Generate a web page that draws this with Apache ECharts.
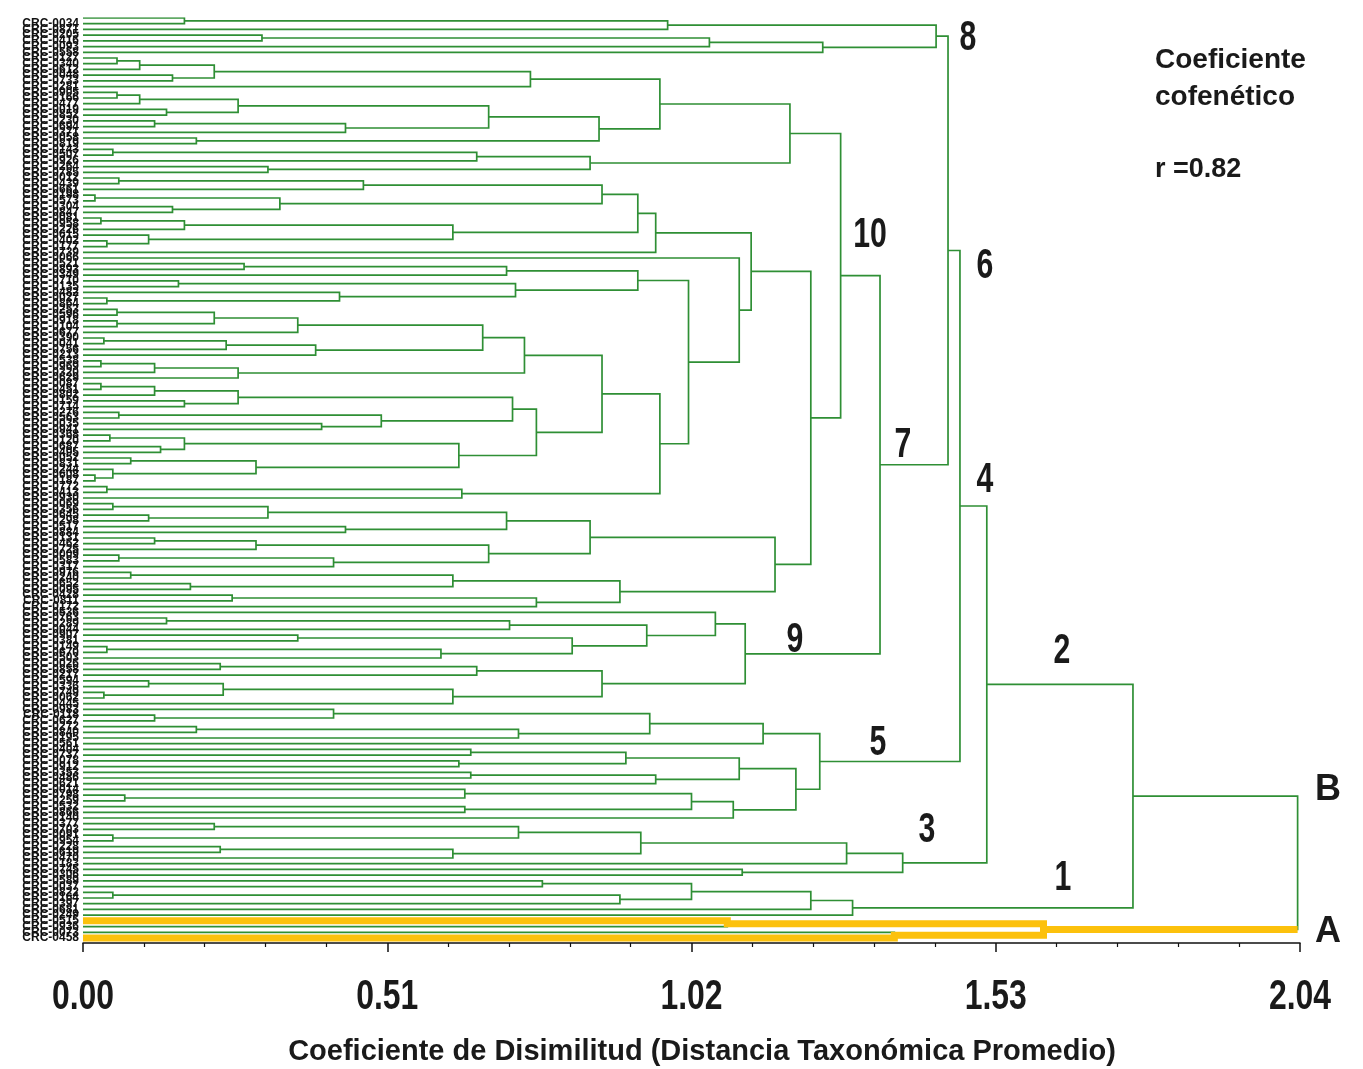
<!DOCTYPE html>
<html>
<head>
<meta charset="utf-8">
<script src="https://cdn.jsdelivr.net/npm/echarts@6/dist/echarts.min.js"></script>
<style>
  html, body { margin: 0; background: #fff; }
  #chart { width: 1363px; height: 1069px; }
</style>
</head>
<body>
<div id="chart"></div>
<script>
// etiquetas de las accesiones (hojas, de arriba hacia abajo)
const leafLabels = (
  'CRC-0112 CRC-0034 CRC-0871 CRC-0205 CRC-0416 CRC-0093 CRC-0558 CRC-0127 CRC-0340 ' +
  'CRC-0612 CRC-0048 CRC-0733 CRC-0281 CRC-0905 CRC-0166 CRC-0477 CRC-0019 CRC-0852 ' +
  'CRC-0230 CRC-0694 CRC-0371 CRC-0058 CRC-0819 CRC-0143 CRC-0507 CRC-0926 CRC-0264 ' +
  'CRC-0785 CRC-0012 CRC-0439 CRC-0661 CRC-0198 CRC-0573 CRC-0304 CRC-0847 CRC-0081 ' +
  'CRC-0958 CRC-0226 CRC-0615 CRC-0402 CRC-0177 CRC-0739 CRC-0066 CRC-0521 CRC-0893 ' +
  'CRC-0349 CRC-0710 CRC-0135 CRC-0482 CRC-0027 CRC-0864 CRC-0253 CRC-0596 CRC-0918 ' +
  'CRC-0104 CRC-0677 CRC-0390 CRC-0041 CRC-0756 CRC-0213 CRC-0538 CRC-0969 CRC-0320 ' +
  'CRC-0629 CRC-0087 CRC-0451 CRC-0802 CRC-0159 CRC-0714 CRC-0276 CRC-0563 CRC-0035 ' +
  'CRC-0941 CRC-0368 CRC-0120 CRC-0687 CRC-0495 CRC-0052 CRC-0831 CRC-0244 CRC-0608 ' +
  'CRC-0187 CRC-0772 CRC-0413 CRC-0930 CRC-0069 CRC-0356 CRC-0645 CRC-0298 CRC-0517 ' +
  'CRC-0884 CRC-0131 CRC-0462 CRC-0725 CRC-0009 CRC-0583 CRC-0317 CRC-0976 CRC-0240 ' +
  'CRC-0652 CRC-0095 CRC-0428 CRC-0811 CRC-0172 CRC-0536 CRC-0763 CRC-0289 CRC-0044 ' +
  'CRC-0907 CRC-0381 CRC-0149 CRC-0670 CRC-0503 CRC-0026 CRC-0858 CRC-0217 CRC-0594 ' +
  'CRC-0336 CRC-0749 CRC-0062 CRC-0445 CRC-0983 CRC-0118 CRC-0627 CRC-0272 CRC-0840 ' +
  'CRC-0195 CRC-0561 CRC-0404 CRC-0737 CRC-0078 CRC-0912 CRC-0353 CRC-0486 CRC-0621 ' +
  'CRC-0014 CRC-0798 CRC-0259 CRC-0532 CRC-0866 CRC-0140 CRC-0377 CRC-0703 CRC-0091 ' +
  'CRC-0954 CRC-0228 CRC-0619 CRC-0470 CRC-0183 CRC-0745 CRC-0306 CRC-0589 CRC-0037 ' +
  'CRC-0822 CRC-0164 CRC-0397 CRC-0681 CRC-0249 CRC-0515 CRC-0936 CRC-0073 CRC-0458'
).split(' ')

// nodos: [distancia de union, hijo1, hijo2]; 0 = hoja
const cluster8 = [1.43, [0.98, [0.17, 0, 0], 0], [1.24, [1.05, [0.30, 0, 0], 0], 0]]

const grp531 = [0.75, [0.22, [0.095, [0.057, 0, 0], 0], [0.15, 0, 0]], 0]
const grp599 = [0.865, [0.68, [0.26, [0.095, [0.057, 0, 0], 0], [0.14, 0, 0]], [0.44, [0.12, 0, 0], 0]], [0.19, 0, 0]]
const grp590 = [0.85, [0.66, [0.05, 0, 0], 0], [0.31, 0, 0]]
const grp645 = [0.93, [0.87, [0.47, [0.06, 0, 0], 0], [0.33, [0.02, 0, 0], [0.15, 0, 0]]],
  [0.62, [0.17, [0.03, 0, 0], 0], [0.11, 0, [0.04, 0, 0]]]]
const grp638 = [0.93, [0.71, [0.27, 0, 0], 0], [0.725, [0.16, 0, 0], [0.43, 0, [0.04, 0, 0]]]]
const grp524 = [0.74, [0.67, [0.36, [0.22, [0.057, 0, 0], [0.057, 0, 0]], 0], [0.39, [0.24, [0.035, 0, 0], 0], 0]],
  [0.26, [0.12, [0.03, 0, 0], 0], 0]]
const grp536 = [0.76, [0.72, [0.26, [0.12, [0.03, 0, 0], 0], [0.17, 0, 0]], [0.5, [0.06, 0, 0], [0.4, 0, 0]]],
  [0.63, [0.17, [0.045, 0, 0], [0.13, 0, 0]], [0.29, [0.08, 0, 0], [0.05, 0, [0.02, 0, 0]]]]]
const grp462 = [0.635, [0.04, 0, 0], 0]
const grp776 = [1.16, [0.85, [0.71, [0.31, [0.05, 0, 0], [0.11, 0, 0]], [0.44, 0, 0]],
  [0.68, [0.29, [0.12, 0, 0], 0], [0.42, [0.06, 0, 0], 0]]],
  [0.90, [0.62, [0.08, 0, 0], [0.18, 0, 0]], [0.76, [0.25, 0, 0], 0]]]

const cluster10 = [1.27,
  [1.185, [0.967, grp531, grp599], grp590],
  [1.22,
    [1.12, [0.96, grp645, 0],
      [1.10, 0, [1.015, grp638, [0.967, [0.87, grp524, grp536], grp462]]]],
    grp776]]

const cluster9 = [1.11,
  [1.06, 0, [0.945, [0.715, [0.14, 0, 0], 0], [0.82, [0.36, 0, 0], [0.6, [0.04, 0, 0], 0]]]],
  [0.87, [0.66, [0.23, 0, 0], 0], [0.62, [0.235, [0.11, 0, 0], [0.035, 0, 0]], 0]]]

const cluster5 = [1.235,
  [1.14, [0.95, [0.42, 0, [0.12, 0, 0]], [0.73, [0.19, 0, 0], 0]], 0],
  [1.195,
    [1.10, [0.91, [0.65, 0, 0], [0.63, 0, 0]], [0.96, [0.65, 0, 0], 0]],
    [1.09, [1.02, [0.64, 0, [0.07, 0, 0]], [0.64, 0, 0]], 0]]]

const cluster3 = [1.374, [1.28, [0.935, [0.73, [0.22, 0, 0], [0.05, 0, 0]], [0.62, [0.23, 0, 0], 0]], 0], [1.105, 0, 0]]
const cluster1 = [1.29, [1.22, [1.02, [0.77, 0, 0], [0.90, [0.05, 0, 0], 0]], 0], 0]
const clusterA = [1.61, [1.08, 0, 0], [1.36, 0, 0]]

const cluster7 = [1.336, cluster10, cluster9]
const cluster6 = [1.45, cluster8, cluster7]
const cluster4 = [1.47, cluster6, cluster5]
const cluster2 = [1.515, cluster4, cluster3]
const clusterB = [1.76, cluster2, cluster1]
const root = [2.036, clusterB, clusterA]

const xTicks = [0, 0.51, 1.02, 1.53, 2.04]

// recorre el arbol y arma los trazos
const greenPaths = []
const info = new Map()
let leafCount = 0
function layout (node) {
  if (node === 0) {
    const i = leafCount++
    return { h: 0, y: i, first: i, last: i }
  }
  const a = layout(node[1])
  const b = layout(node[2])
  greenPaths.push([[a.h, a.y], [node[0], a.y], [node[0], b.y], [b.h, b.y]])
  const r = { h: node[0], y: (a.y + b.y) / 2, first: a.first, last: b.last }
  info.set(node, r)
  return r
}
layout(root)
const nLeaves = leafCount

// resaltado amarillo del grupo A
const rA = info.get(clusterA)
const rA1 = info.get(clusterA[1])
const rA2 = info.get(clusterA[2])
const yellowPaths = [
  [[0, rA1.first], [rA1.h, rA1.first], [rA1.h, rA1.y], [rA.h, rA1.y], [rA.h, rA.y], [root[0], rA.y]],
  [[0, rA2.last], [rA2.h, rA2.last], [rA2.h, rA2.y], [rA.h, rA2.y], [rA.h, rA.y]]
]

const chart = echarts.init(document.getElementById('chart'))
const sansFont = '"Liberation Sans", Arial, sans-serif'
const txt = (text, x, y, font, align, sx) => ({
  type: 'text', x: x, y: y, z: 100, scaleX: sx || 1,
  style: { text: text, font: font, fill: '#1a1a1a', align: align || 'center', verticalAlign: 'middle' }
})
const option = {
  animation: false,
  backgroundColor: '#fff',
  grid: { left: 83, right: 63, top: 18, bottom: 126 },
  xAxis: {
    type: 'value',
    position: 'bottom',
    min: xTicks[0],
    max: xTicks[xTicks.length - 1],
    interval: xTicks[1] - xTicks[0],
    axisLine: { show: true, onZero: false, lineStyle: { color: '#111', width: 1.5 } },
    axisTick: { show: true, length: 9, lineStyle: { color: '#111', width: 1.5 } },
    minorTick: { show: true, splitNumber: 5, length: 4, lineStyle: { color: '#111', width: 1.2 } },
    splitLine: { show: false },
    axisLabel: { show: false }
  },
  yAxis: {
    type: 'value',
    inverse: true,
    min: 0,
    max: (nLeaves - 1) * 925 / 920,
    interval: 1,
    axisLine: { show: false },
    axisTick: { show: false },
    splitLine: { show: false },
    axisLabel: {
      margin: 4,
      fontSize: 12,
      fontWeight: 'bold',
      fontFamily: sansFont,
      color: '#111',
      formatter: v => leafLabels[v] || ''
    }
  },
  series: [
    {
      type: 'lines',
      coordinateSystem: 'cartesian2d',
      polyline: true,
      silent: true,
      z: 2,
      lineStyle: { color: '#2f8f35', width: 1.7, opacity: 1 },
      data: greenPaths.map(c => ({ coords: c }))
    },
    {
      type: 'lines',
      coordinateSystem: 'cartesian2d',
      polyline: true,
      silent: true,
      z: 3,
      lineStyle: { color: '#fcc10c', width: 7, opacity: 1, join: 'miter' },
      data: yellowPaths.map(c => ({ coords: c }))
    }
  ]
}
chart.setOption(option)

// etiquetas del eje x (tipografia estrecha) y anotaciones
const numFont = 'bold 42px ' + sansFont
const graphics = xTicks.map(v =>
  txt(v.toFixed(2), chart.convertToPixel({ xAxisIndex: 0 }, v), 997, numFont, 'center', 0.76))
graphics.push(
  txt('Coeficiente', 1155, 60, 'bold 28px ' + sansFont, 'left'),
  txt('cofenético', 1155, 97, 'bold 28px ' + sansFont, 'left'),
  txt('r =0.82', 1155, 170, 'bold 27px ' + sansFont, 'left'),
  txt('8', 968, 38, numFont, 'center', 0.72),
  txt('10', 870, 235, numFont, 'center', 0.72),
  txt('6', 985, 266, numFont, 'center', 0.72),
  txt('7', 903, 445, numFont, 'center', 0.72),
  txt('4', 985, 480, numFont, 'center', 0.72),
  txt('9', 795, 640, numFont, 'center', 0.72),
  txt('2', 1062, 651, numFont, 'center', 0.72),
  txt('5', 878, 743, numFont, 'center', 0.72),
  txt('3', 927, 830, numFont, 'center', 0.72),
  txt('1', 1063, 878, numFont, 'center', 0.72),
  txt('B', 1328, 790, 'bold 36px ' + sansFont),
  txt('A', 1328, 932, 'bold 36px ' + sansFont),
  txt('Coeficiente de Disimilitud (Distancia Taxonómica Promedio)', 702, 1052, 'bold 29px ' + sansFont)
)
chart.setOption({ graphic: graphics })
</script>
</body>
</html>
